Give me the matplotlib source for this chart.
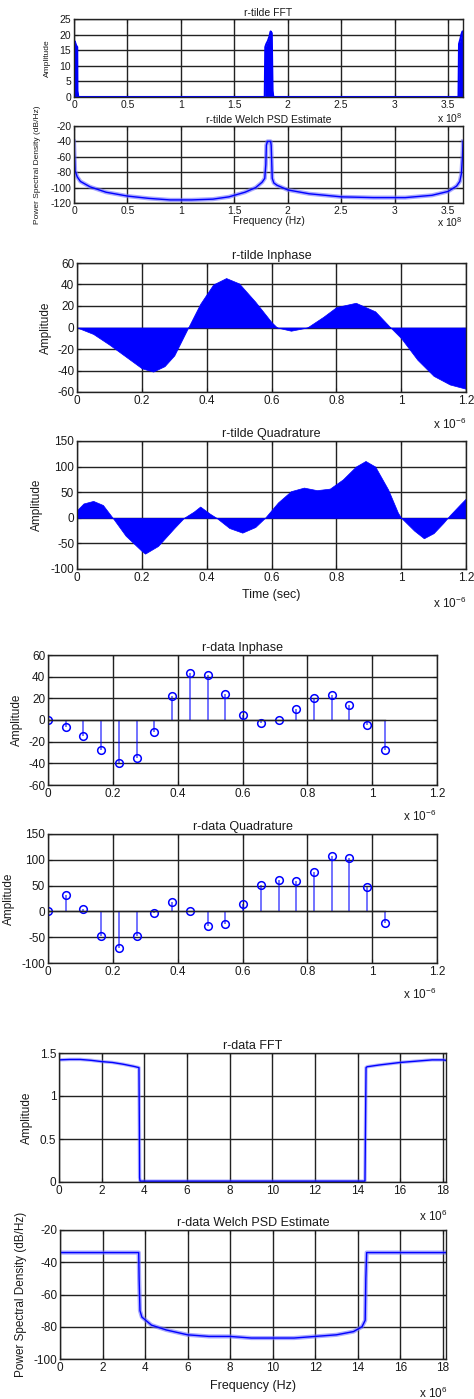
import numpy as np
import matplotlib.pyplot as plt
from matplotlib.ticker import FuncFormatter

plt.rcParams['font.family'] = ['Liberation Sans', 'DejaVu Sans']
plt.rcParams['mathtext.default'] = 'regular'

# r-tilde FFT (x 1e8 Hz), bursts
rt_fft_f = [0.000, 0.002, 0.010, 0.020, 0.030, 0.032, 0.040, 1.785, 1.790, 1.800, 1.815,
            1.830, 1.840, 1.850, 1.858, 1.865, 3.598, 3.603, 3.615, 3.625, 3.635, 3.640]
rt_fft_a = [0, 18, 17.5, 16.5, 16, 2, 0, 0, 16, 17, 18, 19.5, 21, 20.5, 2, 0, 0, 17, 18.5, 20, 21, 21]

# r-tilde Welch PSD (dB/Hz)
rt_psd_f = [0, 0.01, 0.03, 0.06, 0.15, 0.3, 0.5, 0.7, 0.9, 1.1, 1.3, 1.45, 1.6, 1.7, 1.76,
            1.785, 1.795, 1.80, 1.81, 1.83, 1.84, 1.845, 1.855, 1.87, 1.9, 2.0, 2.2, 2.5,
            2.8, 3.1, 3.35, 3.5, 3.58, 3.61, 3.625, 3.635, 3.64]
rt_psd_p = [-40, -78, -86, -92, -99, -106, -111, -114, -116, -116, -115, -112, -106, -100, -93,
            -88, -70, -45, -40, -40, -40, -45, -88, -94, -97, -103, -108, -112,
            -113, -113, -110, -105, -98, -92, -82, -60, -40]

# r-tilde inphase / quadrature envelopes (time x 1e-6 s)
rt_i_t = [0, 0.05, 0.1, 0.15, 0.2, 0.235, 0.27, 0.3, 0.343, 0.38, 0.42, 0.46, 0.5, 0.55,
          0.6, 0.617, 0.66, 0.71, 0.76, 0.8, 0.86, 0.92, 0.967, 1.0, 1.05, 1.1, 1.15, 1.2]
rt_i_v = [0, -6, -16, -27, -38, -41, -36, -26, 0, 22, 40, 46, 41, 24,
          5, 0, -3, 0, 10, 19, 23, 15, 0, -10, -30, -45, -53, -57]

rt_q_t = [0, 0.02, 0.05, 0.08, 0.11, 0.15, 0.2, 0.21, 0.25, 0.3, 0.33, 0.36, 0.38, 0.41,
          0.43, 0.47, 0.51, 0.55, 0.58, 0.62, 0.66, 0.7, 0.74, 0.78, 0.82, 0.86, 0.89,
          0.92, 0.96, 0.99, 1.0, 1.04, 1.07, 1.1, 1.13, 1.15, 1.18, 1.2]
rt_q_v = [15, 28, 33, 25, 0, -35, -65, -70, -55, -20, 0, 12, 22, 8,
          0, -20, -29, -18, 0, 30, 52, 59, 54, 57, 75, 100, 111,
          100, 55, 10, 0, -25, -40, -30, -10, 5, 25, 38]

# r-data samples
rd_t = [0.0547 * i for i in range(20)]
rd_i = [0, -6, -15, -28, -40, -35, -11, 22, 43, 42, 24, 5, -3, 0, 10, 20, 23, 14, -5, -28]
rd_q = [0, 32, 5, -47, -71, -48, -3, 19, 0, -29, -25, 15, 51, 60, 58, 77, 108, 104, 47, -22]

# r-data FFT (x 1e6 Hz)
rd_fft_f = [0, 0.5, 1, 1.5, 2, 2.5, 3, 3.5, 3.75, 3.77, 3.78, 3.8, 3.85, 6, 8, 10, 12, 14,
            14.35, 14.4, 14.45, 15, 15.5, 16, 16.5, 17, 17.5, 18, 18.15]
rd_fft_a = [1.42, 1.425, 1.425, 1.415, 1.40, 1.39, 1.37, 1.345, 1.33, 0.6, 0.05, 0.01, 0.01,
            0.01, 0.01, 0.01, 0.01, 0.01, 0.01, 1.33, 1.34, 1.36, 1.375, 1.39, 1.40, 1.41,
            1.42, 1.42, 1.415]

# r-data Welch PSD
rd_psd_f = [0, 1, 2, 3, 3.7, 3.72, 3.76, 3.85, 4.3, 5, 6, 7, 8, 9, 10, 11, 12, 13, 13.8,
            14.2, 14.35, 14.38, 14.42, 15, 16, 17, 18, 18.15]
rd_psd_p = [-34, -34, -34, -34, -34, -50, -70, -74, -79, -82, -85, -86, -86, -87, -87, -87,
            -86, -85, -83, -80, -76, -50, -34, -34, -34, -34, -34, -34]

W, H = 474, 1399
fig = plt.figure(figsize=(W / 100, H / 100), dpi=100)
TXT = '#1a1a1a'


def add_ax(l, t, r, b):
    return fig.add_axes([l / W, 1 - b / H, (r - l) / W, (b - t) / H])


def style(ax, xlim, xticks, ylim, yticks, fs):
    ax.set_xlim(xlim)
    ax.set_ylim(ylim)
    ax.set_xticks(xticks)
    ax.set_yticks(yticks)
    fmt = FuncFormatter(lambda v, p: '%g' % round(v, 6))
    ax.xaxis.set_major_formatter(fmt)
    ax.yaxis.set_major_formatter(fmt)
    ax.grid(True, color='#222222', lw=1.0)
    ax.set_axisbelow(True)
    ax.tick_params(direction='in', labelsize=fs, length=3, top=True, right=True,
                   pad=2, colors=TXT)
    for s in ax.spines.values():
        s.set_color('#222222')
        s.set_linewidth(1.0)


def exponent(x, y, s, fs):
    fig.text(x / W, 1 - y / H, s, ha='right', va='center', fontsize=fs, color=TXT)


BLUE = '#0000ff'
FT, FS, FL = 7.5, 7.5, 6      # top two panels: title, ticks, labels
BT, BS, BL = 9, 8.5, 8.5      # other panels

# 1 r-tilde FFT
ax1 = add_ax(74, 19, 463, 97)
ax1.fill_between(rt_fft_f, 0, rt_fft_a, color=BLUE, lw=0)
ax1.plot(rt_fft_f, rt_fft_a, color=BLUE, lw=1.5)
style(ax1, (0, 3.64), np.arange(0, 3.51, 0.5), (0, 25), range(0, 26, 5), FS)
ax1.set_title('r-tilde FFT', fontsize=FT, pad=2, color=TXT)
ax1.set_ylabel('Amplitude', fontsize=FL, color=TXT)
ax1.yaxis.set_label_coords((51 - 74) / 389, 0.5)
exponent(463, 118, 'x 10$^{8}$', FS)

# 2 r-tilde PSD
ax2 = add_ax(74, 126, 463, 203)
ax2.plot(rt_psd_f, rt_psd_p, color='#7070ff', lw=3, alpha=0.6)
ax2.plot(rt_psd_f, rt_psd_p, color=BLUE, lw=1)
style(ax2, (0, 3.64), np.arange(0, 3.51, 0.5), (-120, -20), range(-120, -19, 20), FS)
ax2.set_title('r-tilde Welch PSD Estimate', fontsize=FT, pad=2, color=TXT)
ax2.set_ylabel('Power Spectral Density (dB/Hz)', fontsize=FL, color=TXT)
ax2.yaxis.set_label_coords((41 - 74) / 389, 0.5)
ax2.set_xlabel('Frequency (Hz)', fontsize=FT, color=TXT)
ax2.xaxis.set_label_coords(0.5, -0.17)
exponent(463, 222, 'x 10$^{8}$', FS)

# 3 r-tilde inphase
ax3 = add_ax(77, 263, 466, 392)
ax3.fill_between(rt_i_t, 0, rt_i_v, color=BLUE, lw=0.5)
style(ax3, (0, 1.2), np.arange(0, 1.21, 0.2), (-60, 60), range(-60, 61, 20), BS)
ax3.set_title('r-tilde Inphase', fontsize=BT, pad=3, color=TXT)
ax3.set_ylabel('Amplitude', fontsize=BL, color=TXT)
ax3.yaxis.set_label_coords((52 - 77) / 389, 0.5)
exponent(466, 424, 'x 10$^{-6}$', BS)

# 4 r-tilde quadrature
ax4 = add_ax(77, 441, 466, 569)
ax4.fill_between(rt_q_t, 0, rt_q_v, color=BLUE, lw=0.5)
style(ax4, (0, 1.2), np.arange(0, 1.21, 0.2), (-100, 150), range(-100, 151, 50), BS)
ax4.set_title('r-tilde Quadrature', fontsize=BT, pad=3, color=TXT)
ax4.set_ylabel('Amplitude', fontsize=BL, color=TXT)
ax4.yaxis.set_label_coords((43 - 77) / 389, 0.5)
ax4.set_xlabel('Time (sec)', fontsize=BT, color=TXT)
ax4.xaxis.set_label_coords(0.5, -0.16)
exponent(466, 603, 'x 10$^{-6}$', BS)


def stem_plot(ax, t, v):
    ml, sl, bl = ax.stem(t, v, linefmt='-', markerfmt='o', basefmt='-')
    plt.setp(sl, color=BLUE, lw=1.1, alpha=0.7)
    plt.setp(ml, markerfacecolor='none', markeredgecolor=BLUE, markersize=5.5, mew=1.1)
    plt.setp(bl, color='#222222', lw=1.0)


# 5 r-data inphase
ax5 = add_ax(48, 655, 437, 785)
stem_plot(ax5, rd_t, rd_i)
style(ax5, (0, 1.2), np.arange(0, 1.21, 0.2), (-60, 60), range(-60, 61, 20), BS)
ax5.set_title('r-data Inphase', fontsize=BT, pad=3, color=TXT)
ax5.set_ylabel('Amplitude', fontsize=BL, color=TXT)
ax5.yaxis.set_label_coords((23 - 48) / 389, 0.5)
exponent(436, 816, 'x 10$^{-6}$', BS)

# 6 r-data quadrature
ax6 = add_ax(48, 834, 437, 963)
stem_plot(ax6, rd_t, rd_q)
style(ax6, (0, 1.2), np.arange(0, 1.21, 0.2), (-100, 150), range(-100, 151, 50), BS)
ax6.set_title('r-data Quadrature', fontsize=BT, pad=3, color=TXT)
ax6.set_ylabel('Amplitude', fontsize=BL, color=TXT)
ax6.yaxis.set_label_coords((15 - 48) / 389, 0.5)
exponent(436, 994, 'x 10$^{-6}$', BS)

# 7 r-data FFT
ax7 = add_ax(59, 1053, 446, 1182)
ax7.plot(rd_fft_f, rd_fft_a, color='#7070ff', lw=2.5, alpha=0.5)
ax7.plot(rd_fft_f, rd_fft_a, color=BLUE, lw=1)
style(ax7, (0, 18.15), range(0, 19, 2), (0, 1.5), np.arange(0, 1.51, 0.5), BS)
ax7.set_title('r-data FFT', fontsize=BT, pad=3, color=TXT)
ax7.set_ylabel('Amplitude', fontsize=BL, color=TXT)
ax7.yaxis.set_label_coords((33 - 59) / 387, 0.5)
exponent(447, 1216, 'x 10$^{6}$', BS)

# 8 r-data PSD
ax8 = add_ax(60, 1230, 446, 1359)
ax8.plot(rd_psd_f, rd_psd_p, color='#7070ff', lw=3, alpha=0.6)
ax8.plot(rd_psd_f, rd_psd_p, color=BLUE, lw=1)
style(ax8, (0, 18.15), range(0, 19, 2), (-100, -20), range(-100, -19, 20), BS)
ax8.set_title('r-data Welch PSD Estimate', fontsize=BT, pad=3, color=TXT)
ax8.set_ylabel('Power Spectral Density (dB/Hz)', fontsize=BL, color=TXT)
ax8.yaxis.set_label_coords((27 - 60) / 386, 0.5)
ax8.set_xlabel('Frequency (Hz)', fontsize=BT, color=TXT)
ax8.xaxis.set_label_coords(0.5, -0.16)
exponent(447, 1393, 'x 10$^{6}$', BS)

fig.savefig('out.png', dpi=100)
